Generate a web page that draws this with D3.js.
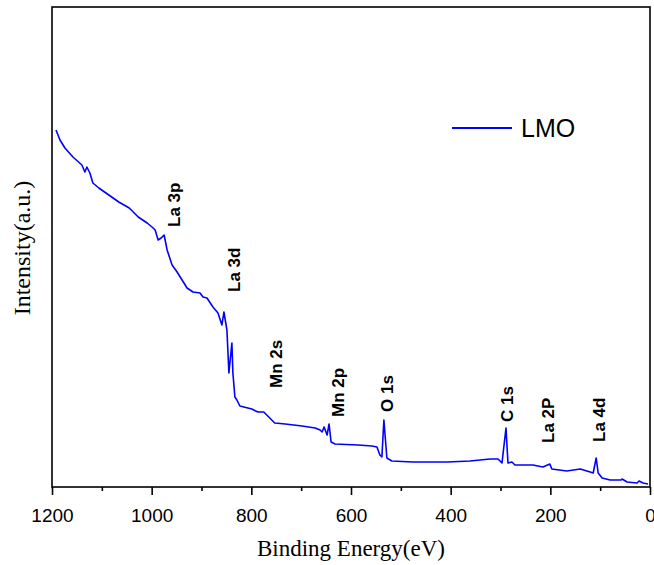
<!DOCTYPE html>
<html><head><meta charset="utf-8">
<script src="https://cdn.jsdelivr.net/npm/d3@7/dist/d3.min.js"></script>
<style>body{margin:0;background:#fff}svg{display:block}</style>
</head><body>
<script>
// Binding energy (eV) and intensity (a.u.)
const energy = [1192,1184,1174,1158,1140,1134,1130,1124,1118,1106,1086,1066,1045,1027,1009,997,993,987,981,975,969,959,949,939,929,917,903,897,889,877,867,859,855,849,845,839,837,833,829,823,799,787,775,767,753,732,698,672,662,658,654,648,644,640,632,586,558,548,542,538,534,528,518,476,407,361,321,305,297,289,285,277,271,235,215,201,197,167,140,120,114,108,104,96,80,58,56,46,26,22,14,4];
const intensity = [357,347,339,330,322,315,320,314,304,299,292,285,279,270,264,259,257,247,249,252,237,222,215,207,199,195,194,190,189,180,174,162,175,157,114,144,114,90,87,81,78,75,75,71,64,63,61,59,57,55,60,52,63,45,43,42,41,40,32,30,67,29,26,25,25,26,28,28,24,59,24,25,22,22,20,23,18,16,18,15,14,29,14,9,7,7,8,5,4,6,4,3];
const xTicks = [1200,1000,800,600,400,200,0];
const xMinorTicks = [1100,900,700,500,300,100];
const peakLabels = ["La 3p","La 3d","Mn 2s","Mn 2p","O 1s","C 1s","La 2P","La 4d"];
const peakLabelEnergy = [943,823,738,614,516,275,193,90];
const peakLabelIntensity = [260,195,99,70,75,65,44,45];
const seriesName = "LMO";

const W=654,H=565;
const svg=d3.select("body").append("svg").attr("width",W).attr("height",H);
const x=d3.scaleLinear().domain([1200,0]).range([52,650]);
const y=d3.scaleLinear().domain([0,480]).range([487,7]);

// data line
const data=energy.map((e,i)=>[e,intensity[i]]);
svg.append("path").datum(data)
  .attr("fill","none").attr("stroke","#0000FF").attr("stroke-width",1.6)
  .attr("stroke-linejoin","round")
  .attr("d",d3.line().x(d=>x(d[0])).y(d=>y(d[1])));

// frame
svg.append("rect").attr("x",52).attr("y",7).attr("width",598).attr("height",480)
  .attr("fill","none").attr("stroke","#000").attr("stroke-width",1.6);

// x axis
const ax=svg.append("g").attr("transform","translate(0,487)")
  .call(d3.axisBottom(x).tickValues(xTicks).tickSize(8).tickPadding(14).tickFormat(d3.format("d")));
ax.select(".domain").remove();
ax.selectAll("line").attr("stroke","#000").attr("stroke-width",1.6);
ax.selectAll("text").attr("font-family","'Liberation Sans',Arial,sans-serif").attr("font-size",19).attr("fill","#000");
const axm=svg.append("g").attr("transform","translate(0,487)")
  .call(d3.axisBottom(x).tickValues(xMinorTicks).tickSize(4).tickFormat(""));
axm.select(".domain").remove();
axm.selectAll("line").attr("stroke","#000").attr("stroke-width",1.6);

// axis titles
svg.append("text").attr("x",351).attr("y",556).attr("text-anchor","middle")
  .attr("font-family","'Liberation Serif','Times New Roman',serif").attr("font-size",23)
  .text("Binding Energy(eV)");
svg.append("text").attr("transform","translate(30,248) rotate(-90)").attr("text-anchor","middle")
  .attr("font-family","'Liberation Serif','Times New Roman',serif").attr("font-size",24)
  .text("Intensity(a.u.)");

// peak labels
peakLabels.forEach((t,i)=>{
  svg.append("text")
    .attr("transform",`translate(${x(peakLabelEnergy[i])},${y(peakLabelIntensity[i])}) rotate(-90)`)
    .attr("font-family","'Liberation Sans',Arial,sans-serif").attr("font-weight","bold").attr("font-size",17)
    .text(t);
});

// legend
svg.append("line").attr("x1",452).attr("x2",512).attr("y1",128).attr("y2",128)
  .attr("stroke","#0000FF").attr("stroke-width",2);
svg.append("text").attr("x",521).attr("y",137).attr("font-family","'Liberation Sans',Arial,sans-serif")
  .attr("font-size",25).text(seriesName);
</script>
</body></html>
